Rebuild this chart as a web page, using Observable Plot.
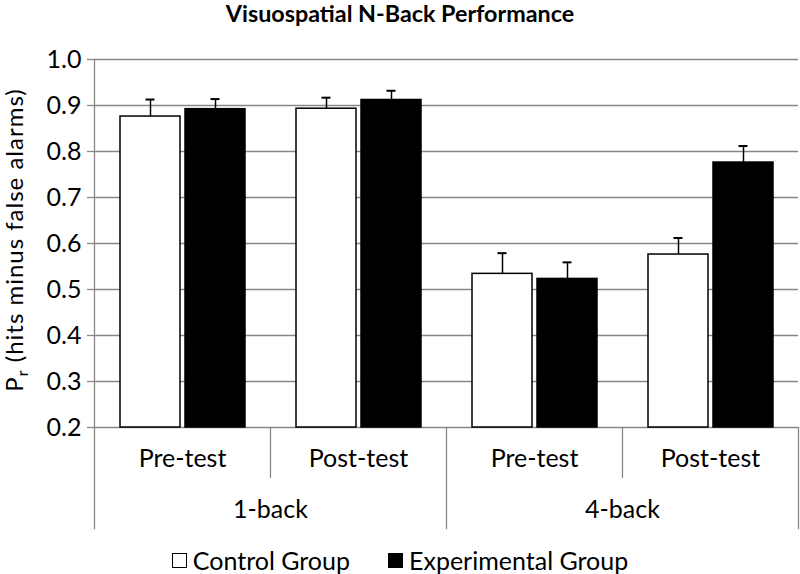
<!DOCTYPE html>
<html><head><meta charset="utf-8">
<script src="https://cdn.jsdelivr.net/npm/d3@7"></script>
<script src="https://cdn.jsdelivr.net/npm/@observablehq/plot@0.6"></script>
<style>
body{margin:0;background:#fff;font-family:Lato,"Open Sans",sans-serif;color:#000;}
#wrap{position:relative;width:800px;height:574px;overflow:hidden;}
#title{position:absolute;left:0;top:0;width:800px;text-align:center;font-weight:bold;font-size:23.3px;line-height:26px;}
#chart{position:absolute;left:0;top:38px;}
#ylabel{position:absolute;left:14px;top:240px;transform:translate(-50%,-50%) rotate(-90deg);white-space:nowrap;font-size:24px;line-height:24px;letter-spacing:1px;}
#ylabel sub{font-size:16px;vertical-align:-5px;line-height:0;}
#legend{position:absolute;left:0;top:544px;width:800px;height:32px;display:flex;justify-content:center;align-items:center;font-size:25px;line-height:32px;}
.item{display:flex;align-items:center;margin:0 19px;}
.sw{width:15px;height:15px;border:1px solid #000;margin-right:6px;box-sizing:border-box;}
</style></head>
<body>
<div id="wrap">
  <div id="title">Visuospatial N-Back Performance</div>
  <div id="chart"></div>
  <div id="ylabel">P<sub>r</sub> (hits minus false alarms)</div>
  <div id="legend"></div>
</div>
<script>
// ---- data ----
const tasks = ["1-back", "4-back"];
const times = ["Pre-test", "Post-test"];
const groups = ["Control Group", "Experimental Group"];
const groupColors = ["#ffffff", "#000000"];
// order: 1-back Pre, 1-back Post, 4-back Pre, 4-back Post
const controlMeans = [0.876, 0.893, 0.534, 0.576];
const controlErrors = [0.037, 0.024, 0.045, 0.036];
const experimentalMeans = [0.892, 0.912, 0.523, 0.776];
const experimentalErrors = [0.022, 0.020, 0.036, 0.036];
const yTicks = [0.2, 0.3, 0.4, 0.5, 0.6, 0.7, 0.8, 0.9, 1.0];

// ---- build tables ----
const conds = [];
tasks.forEach(t => times.forEach(s => conds.push({key: t + "|" + s, task: t, time: s})));
const condKeys = conds.map(c => c.key);
const rows = [];
conds.forEach((c, i) => {
  rows.push({cond: c.key, group: groups[0], value: controlMeans[i], err: controlErrors[i]});
  rows.push({cond: c.key, group: groups[1], value: experimentalMeans[i], err: experimentalErrors[i]});
});
const taskLabels = tasks.map(t => ({task: t, cond: t + "|" + times[0]}));

const yMin = yTicks[0], yMax = yTicks[yTicks.length - 1];
const W = 800, H = 497, mt = 21, mb = 108, ml = 93, mr = 2;
const plotH = H - mt - mb;
const gray = "#878787";
const fxOf = k => () => k;
const fontSize = 25;

const chart = Plot.plot({
  width: W, height: H,
  marginTop: mt, marginBottom: mb, marginLeft: ml, marginRight: mr,
  style: {fontFamily: "Lato, 'Open Sans', sans-serif", fontSize: fontSize + "px", color: "#000", background: "#fff", overflow: "visible"},
  fx: {domain: condKeys, padding: 0, axis: null, label: null},
  x: {domain: groups, paddingInner: 0.08, paddingOuter: 0.39, axis: null, label: null},
  y: {domain: [yMin, yMax], axis: null, label: null},
  color: {domain: groups, range: groupColors},
  marks: [
    Plot.gridY(yTicks, {stroke: gray, strokeOpacity: 1, strokeWidth: 1.3}),
    Plot.axisY(yTicks, {tickFormat: d3.format(".1f"), tickSize: 7, tickPadding: 6, stroke: gray, strokeWidth: 1.3, fontSize: fontSize, label: null}),
    // axis / divider lines
    Plot.frame({fx: fxOf(condKeys[0]), anchor: "left", insetBottom: -101, stroke: gray, strokeWidth: 1.3}),
    Plot.frame({fx: fxOf(condKeys[2]), anchor: "left", insetTop: plotH, insetBottom: -101, stroke: gray, strokeWidth: 1.3}),
    Plot.frame({fx: fxOf(condKeys[3]), anchor: "right", insetTop: plotH, insetBottom: -101, stroke: gray, strokeWidth: 1.3}),
    Plot.frame({fx: fxOf(condKeys[1]), anchor: "left", insetTop: plotH, insetBottom: -50, stroke: gray, strokeWidth: 1.3}),
    Plot.frame({fx: fxOf(condKeys[3]), anchor: "left", insetTop: plotH, insetBottom: -50, stroke: gray, strokeWidth: 1.3}),
    // bars
    Plot.barY(rows, {fx: "cond", x: "group", y1: yMin, y2: "value", fill: "group", stroke: "#000", strokeWidth: 1.5}),
    // error bars
    Plot.ruleX(rows, {fx: "cond", x: "group", y1: "value", y2: d => d.value + d.err, stroke: "#000", strokeWidth: 1.5}),
    Plot.tickY(rows, {fx: "cond", x: "group", y: d => d.value + d.err, stroke: "#000", strokeWidth: 2, insetLeft: 25.5, insetRight: 25.5}),
    // category labels
    Plot.text(conds, {fx: "key", text: "time", frameAnchor: "bottom", dy: 39, fontSize: fontSize}),
    Plot.text(taskLabels, {fx: "cond", text: "task", frameAnchor: "bottom-right", textAnchor: "middle", dy: 90, fontSize: fontSize})
  ]
});
document.getElementById("chart").appendChild(chart);

// legend
const leg = document.getElementById("legend");
groups.forEach((g, i) => {
  const it = document.createElement("div"); it.className = "item";
  const sw = document.createElement("div"); sw.className = "sw"; sw.style.background = groupColors[i];
  const tx = document.createElement("span"); tx.textContent = g;
  it.appendChild(sw); it.appendChild(tx); leg.appendChild(it);
});
</script>
</body></html>
